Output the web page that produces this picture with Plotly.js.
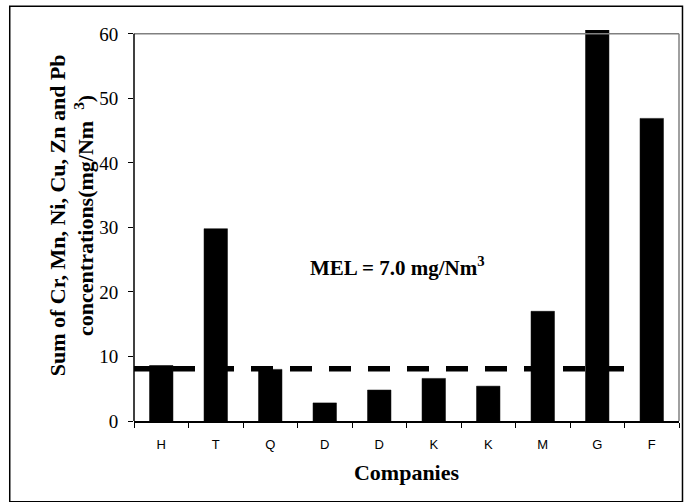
<!DOCTYPE html>
<html>
<head>
<meta charset="utf-8">
<script src="https://cdn.plot.ly/plotly-3.0.1.min.js"></script>
<style>html,body{margin:0;padding:0;background:#fff;}#chart{width:684px;height:502px;}</style>
</head>
<body>
<div id="chart"></div>
<script>
const companies = ['H', 'T', 'Q', 'D', 'D', 'K', 'K', 'M', 'G', 'F'];
const concentrations = [8.6, 29.8, 8.0, 2.8, 4.8, 6.6, 5.4, 17.0, 60.6, 46.9];
const melLevel = 8.1;
const yTicks = [0, 10, 20, 30, 40, 50, 60];
const yMax = 60;

const positions = companies.map((c, i) => i);

const serif = 'Liberation Serif, Times New Roman, serif';

const trace = {
  type: 'bar',
  x: positions,
  y: concentrations,
  marker: {color: '#000000', line: {color: '#000000', width: 0.5}},
  hoverinfo: 'skip'
};

const layout = {
  width: 684,
  height: 502,
  margin: {l: 133.5, r: 4.5, t: 29.6, b: 81},
  paper_bgcolor: '#ffffff',
  plot_bgcolor: '#ffffff',
  showlegend: false,
  bargap: 0.57,
  xaxis: {
    range: [-0.5, 9.5],
    tickvals: positions,
    ticktext: companies,
    ticks: '',
    showgrid: false,
    zeroline: false,
    showline: true,
    linecolor: '#000000',
    linewidth: 1.5,
    tickfont: {family: 'Liberation Sans, Arial, sans-serif', size: 13, color: '#000'},
    ticklabelstandoff: 11,
    minor: {tick0: 0.5, dtick: 1, ticks: 'outside', ticklen: 5, tickcolor: '#000', tickwidth: 1, showgrid: false},
    title: {text: 'Companies', font: {family: serif, size: 22, weight: 'bold', color: '#000'}, standoff: 13}
  },
  yaxis: {
    range: [0, 60.6],
    tickvals: yTicks,
    ticks: 'outside',
    ticklen: 5,
    tickcolor: '#000',
    showgrid: false,
    zeroline: false,
    showline: false,
    tickfont: {family: serif, size: 19, color: '#000'},
    ticklabelstandoff: 6
  },
  shapes: [
    {type: 'line', xref: 'paper', yref: 'y', x0: 0, x1: 1, y0: yMax, y1: yMax, line: {color: '#808080', width: 1.5}},
    {type: 'line', xref: 'paper', yref: 'y', x0: 1, x1: 1, y0: 0, y1: yMax, line: {color: '#808080', width: 1.5}},
    {type: 'line', xref: 'paper', yref: 'y', x0: 0, x1: 0, y0: 0, y1: yMax, line: {color: '#000000', width: 1.5}},
    {type: 'line', xref: 'paper', yref: 'y', x0: 0, x1: 1, y0: melLevel, y1: melLevel, line: {color: '#000000', width: 5.5, dash: '22px,17px'}},
    {type: 'rect', xref: 'paper', yref: 'paper', x0: -0.228, x1: 1.0064, y0: -0.2065, y1: 1.061, line: {color: '#000000', width: 1.5}, fillcolor: 'rgba(0,0,0,0)'}
  ],
  annotations: [
    {
      xref: 'paper', yref: 'paper', x: -0.1145, y: 0.525, xanchor: 'center', yanchor: 'middle',
      textangle: -90, showarrow: false,
      text: 'Sum of Cr, Mn, Ni, Cu, Zn and Pb<br>concentrations(mg/Nm\u00a0\u00a0<sup>3</sup>)',
      font: {family: serif, size: 22, weight: 'bold', color: '#000'}
    },
    {
      xref: 'paper', yref: 'paper', x: 0.4826, y: 0.394, xanchor: 'center', yanchor: 'middle',
      showarrow: false,
      text: 'MEL = 7.0 mg/Nm<sup>3</sup>',
      font: {family: serif, size: 21, weight: 'bold', color: '#000'}
    }
  ]
};

Plotly.newPlot('chart', [trace], layout, {staticPlot: true, displayModeBar: false});
</script>
</body>
</html>
